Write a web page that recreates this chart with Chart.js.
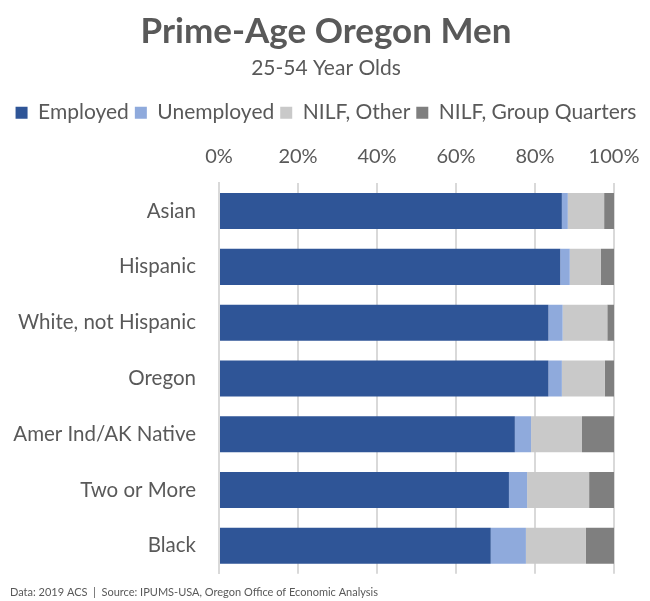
<!DOCTYPE html>
<html>
<head>
<meta charset="utf-8">
<script src="https://cdn.jsdelivr.net/npm/chart.js@4.4.1/dist/chart.umd.min.js"></script>
<style>
  html, body { margin: 0; padding: 0; background: #fff; }
  #wrap { width: 650px; height: 601px; position: relative; }
</style>
</head>
<body>
<div id="wrap"><canvas id="chart"></canvas></div>
<script>
// shares of prime-age men by labor status, percent
var groups = ['Asian', 'Hispanic', 'White, not Hispanic', 'Oregon', 'Amer Ind/AK Native', 'Two or More', 'Black'];
var employed = [86.8, 86.4, 83.4, 83.4, 74.9, 73.4, 68.8];
var unemployed = [1.5, 2.4, 3.6, 3.4, 4.1, 4.6, 8.9];
var nilfOther = [9.2, 7.9, 11.3, 10.9, 12.9, 15.7, 15.2];
var nilfGroupQuarters = [2.5, 3.3, 1.7, 2.3, 8.1, 6.3, 7.1];
var xTicks = [0, 20, 40, 60, 80, 100];

var grey = '#595959';
var font = 'Lato, "Open Sans", sans-serif';

// source line along the bottom edge
var footer = {
    id: 'footer',
    afterDraw: function(chart) {
        var ctx = chart.ctx;
        ctx.save();
        ctx.font = '11px ' + font;
        ctx.fillStyle = grey;
        ctx.textBaseline = 'middle';
        ctx.fillText('Data: 2019 ACS  |  Source: IPUMS-USA, Oregon Office of Economic Analysis', 10, 592);
        ctx.restore();
    }
};

new Chart(document.getElementById('chart'), {
    type: 'bar',
    data: {
        labels: groups,
        datasets: [
            { label: 'Employed', data: employed, backgroundColor: '#2F5597' },
            { label: 'Unemployed', data: unemployed, backgroundColor: '#8FAADC' },
            { label: 'NILF, Other', data: nilfOther, backgroundColor: '#C9C9C9' },
            { label: 'NILF, Group Quarters', data: nilfGroupQuarters, backgroundColor: '#7F7F7F' }
        ]
    },
    options: {
        indexAxis: 'y',
        responsive: true,
        maintainAspectRatio: false,
        animation: false,
        barPercentage: 0.646,
        categoryPercentage: 1,
        layout: { padding: { top: 4, right: 0, bottom: 21, left: 2 } },
        plugins: {
            title: {
                display: true,
                text: 'Prime-Age Oregon Men',
                color: grey,
                font: { family: font, size: 35, weight: 'bold' },
                padding: { top: 7, bottom: 3 }
            },
            subtitle: {
                display: true,
                text: '25-54 Year Olds',
                color: grey,
                font: { family: font, size: 21 },
                padding: { bottom: 15 }
            },
            legend: {
                position: 'top',
                labels: {
                    color: grey,
                    font: { family: font, size: 21 },
                    boxWidth: 12,
                    boxHeight: 12,
                    padding: 6
                }
            },
            tooltip: { enabled: false }
        },
        scales: {
            x: {
                position: 'top',
                stacked: true,
                min: 0,
                max: 100,
                afterBuildTicks: function(axis) {
                    axis.ticks = xTicks.map(function(v) { return { value: v }; });
                },
                // tighter axis band, and keep the plot's right edge clear of the canvas edge
                afterFit: function(axis) {
                    axis.height -= 4;
                    axis.paddingRight = 36;
                },
                ticks: {
                    color: grey,
                    font: { family: font, size: 20 },
                    padding: 15,
                    callback: function(v) { return v + '%'; }
                },
                grid: { color: '#d9d9d9', lineWidth: 2, drawTicks: false },
                border: { display: false }
            },
            y: {
                stacked: true,
                afterFit: function(axis) { axis.width = 217; },
                ticks: {
                    color: grey,
                    font: { family: font, size: 20.5 },
                    padding: 15
                },
                grid: { display: false },
                border: { display: true, color: '#d9d9d9', width: 2 }
            }
        }
    },
    plugins: [footer]
});
</script>
</body>
</html>
